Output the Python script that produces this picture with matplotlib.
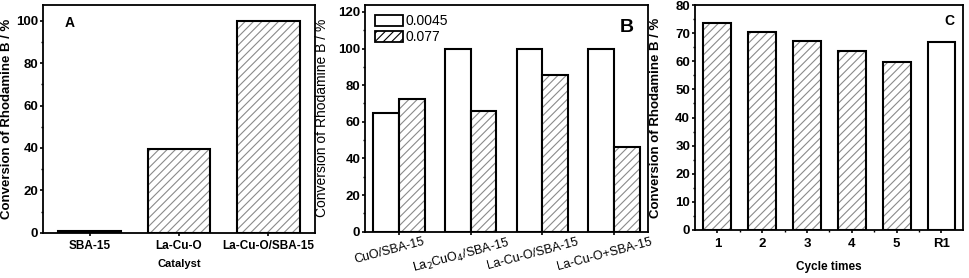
import numpy as np
import matplotlib
matplotlib.use("Agg")
from matplotlib import pyplot as plt
from matplotlib import transforms
from matplotlib.ticker import MultipleLocator, FixedLocator
from matplotlib.patches import Patch

plt.rcParams['font.family'] = ['Liberation Sans', 'DejaVu Sans']
plt.rcParams['hatch.linewidth'] = 0.8
plt.rcParams['axes.linewidth'] = 1.3

# panel A
a_labels = ["SBA-15", "La-Cu-O", "La-Cu-O/SBA-15"]
a_values = [1.0, 39.5, 100.0]

# panel B
b_labels = ["CuO/SBA-15", "La$_2$CuO$_4$/SBA-15", "La-Cu-O/SBA-15", "La-Cu-O+SBA-15"]
b_low = [65.0, 100.0, 100.0, 100.0]     # 0.0045
b_high = [72.5, 66.0, 85.5, 46.0]       # 0.077
b_series = ["0.0045", "0.077"]

# panel C
c_labels = ["1", "2", "3", "4", "5", "R1"]
c_values = [73.5, 70.3, 67.3, 63.5, 59.8, 66.7]
c_hatched = [True, True, True, True, True, False]

ylab = "Conversion of Rhodamine B / %"
HATCH = "////"
HCOL = "#8a8a8a"


def hatched_bar(ax, x, h, w):
    # hatch in grey, outline in black
    ax.bar(x, h, w, color="white", edgecolor=HCOL, hatch=HATCH, linewidth=0)
    ax.bar(x, h, w, color="none", edgecolor="black", linewidth=1.5)


def plain_bar(ax, x, h, w):
    ax.bar(x, h, w, color="white", edgecolor="black", linewidth=1.5)


def style(ax):
    ax.tick_params(which="major", direction="out", length=2.5, width=1.2, labelsize=9.5, pad=1)
    ax.tick_params(which="minor", direction="out", length=1.5, width=1)
    ax.tick_params(top=False, right=False)
    for t in ax.get_yticklabels() + ax.get_xticklabels():
        t.set_fontweight("bold")


fig = plt.figure(figsize=(9.69, 2.78), dpi=100)

# ---- A
ax = fig.add_axes([0.0444, 0.163, 0.2807, 0.819])
xa = np.arange(len(a_values))
hatched_bar(ax, xa, a_values, 0.7)
ax.set_xlim(-0.52, 2.52)
ax.set_ylim(0, 107.5)
ax.yaxis.set_major_locator(MultipleLocator(20))
ax.yaxis.set_minor_locator(MultipleLocator(10))
ax.set_xticks(xa)
ax.set_xticklabels(a_labels)
style(ax)
ax.tick_params(axis="x", labelsize=8.5, pad=3)
ax.set_xlabel("Catalyst", fontsize=8, fontweight="bold", labelpad=5)
ax.set_ylabel(ylab, fontsize=9.5, fontweight="bold")
ax.yaxis.set_label_coords(-0.11, 0.5)
ax.text(0.08, 0.92, "A", transform=ax.transAxes, fontsize=10, fontweight="bold", va="center")

# ---- B
ax = fig.add_axes([0.3767, 0.1666, 0.292, 0.817])
xb = np.arange(len(b_labels))
bw = 0.36
plain_bar(ax, xb - bw / 2, b_low, bw)
hatched_bar(ax, xb + bw / 2, b_high, bw)
ax.set_xlim(-0.47, 3.47)
ax.set_ylim(0, 124)
ax.yaxis.set_major_locator(MultipleLocator(20))
ax.yaxis.set_minor_locator(MultipleLocator(10))
ax.set_xticks(xb)
ax.set_xticklabels(b_labels, rotation=15, ha="center")
style(ax)
ax.tick_params(axis="x", pad=0.5)
shift = transforms.ScaledTranslation(-7 / 72, 0, fig.dpi_scale_trans)
for t in ax.get_xticklabels():
    t.set_fontweight("normal")
    t.set_fontsize(9)
    t.set_transform(t.get_transform() + shift)
ax.set_ylabel(ylab, fontsize=10)
ax.yaxis.set_label_coords(-0.127, 0.5)
handles = [Patch(facecolor="white", edgecolor="black", linewidth=1.3),
           Patch(facecolor="white", edgecolor="black", hatch=HATCH, linewidth=1.3)]
ax.legend(handles, b_series, loc="upper left", frameon=False, fontsize=10,
          handlelength=2.0, handleheight=0.9, handletextpad=0.2, labelspacing=0.15,
          borderaxespad=0.3)
ax.text(0.9, 0.9, "B", transform=ax.transAxes, fontsize=14, fontweight="bold", va="center")

# ---- C
ax = fig.add_axes([0.7172, 0.1727, 0.2766, 0.809])
xc = np.arange(len(c_values))
for i in range(len(c_values)):
    if c_hatched[i]:
        hatched_bar(ax, xc[i], c_values[i], 0.62)
    else:
        plain_bar(ax, xc[i], c_values[i], 0.62)
ax.set_xlim(-0.5, 5.48)
ax.set_ylim(0, 80)
ax.yaxis.set_major_locator(MultipleLocator(10))
ax.yaxis.set_minor_locator(MultipleLocator(5))
ax.set_xticks(xc)
ax.xaxis.set_minor_locator(FixedLocator(xc[:-1] + 0.5))
ax.set_xticklabels(c_labels)
style(ax)
ax.tick_params(axis="x", pad=3)
ax.set_xlabel("Cycle times", fontsize=8.5, fontweight="bold", labelpad=8)
ax.set_ylabel(ylab, fontsize=9.5, fontweight="bold")
ax.yaxis.set_label_coords(-0.123, 0.5)
ax.text(0.93, 0.93, "C", transform=ax.transAxes, fontsize=10, fontweight="bold", va="center")

fig.savefig("out.png", dpi=100)
